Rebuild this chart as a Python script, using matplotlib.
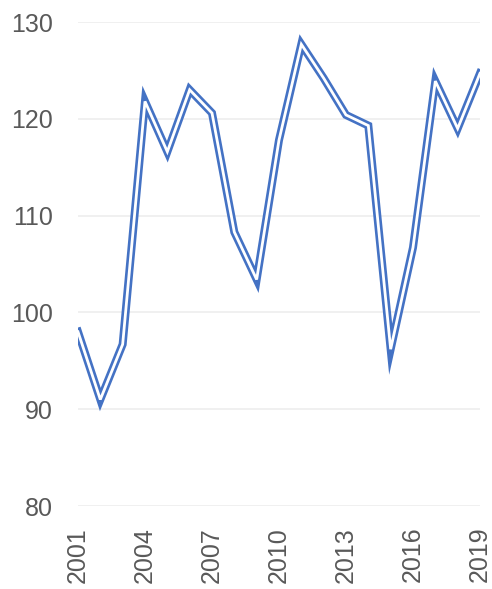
import numpy as np
import matplotlib.pyplot as plt
import matplotlib.patheffects as pe

# values
years = list(range(2001, 2020))
values = [98.0, 91.0, 96.7, 121.8, 116.6, 123.0, 120.6, 108.3, 103.4, 117.8,
          127.7, 124.2, 120.4, 119.3, 96.2, 106.7, 123.9, 119.0, 124.7]
xticks = [2001, 2004, 2007, 2010, 2013, 2016, 2019]
yticks = [80, 90, 100, 110, 120, 130]

plt.rcParams["font.family"] = ["Liberation Sans", "DejaVu Sans"]

fig = plt.figure(figsize=(4.92, 5.89), dpi=100)
ax = fig.add_axes([0.1585, 0.1409, 0.8171, 0.8217])

# double line: blue outline with a white core
ax.plot(years, values, color="white", lw=2.0, solid_joinstyle="miter",
        path_effects=[pe.Stroke(linewidth=5.8, foreground="#4472C4"), pe.Normal()],
        zorder=3)

ax.set_xlim(2001, 2019)
ax.set_ylim(80, 130)
ax.set_xticks(xticks)
ax.set_yticks(yticks)
ax.tick_params(axis="x", labelrotation=90, length=0, pad=15, labelsize=18, colors="#595959")
ax.tick_params(axis="y", length=0, pad=18, labelsize=18, colors="#595959")
ax.grid(axis="y", color="#eeeeee", lw=1.2)
ax.set_axisbelow(True)
for s in ax.spines.values():
    s.set_visible(False)

fig.savefig("out.png", dpi=100)
